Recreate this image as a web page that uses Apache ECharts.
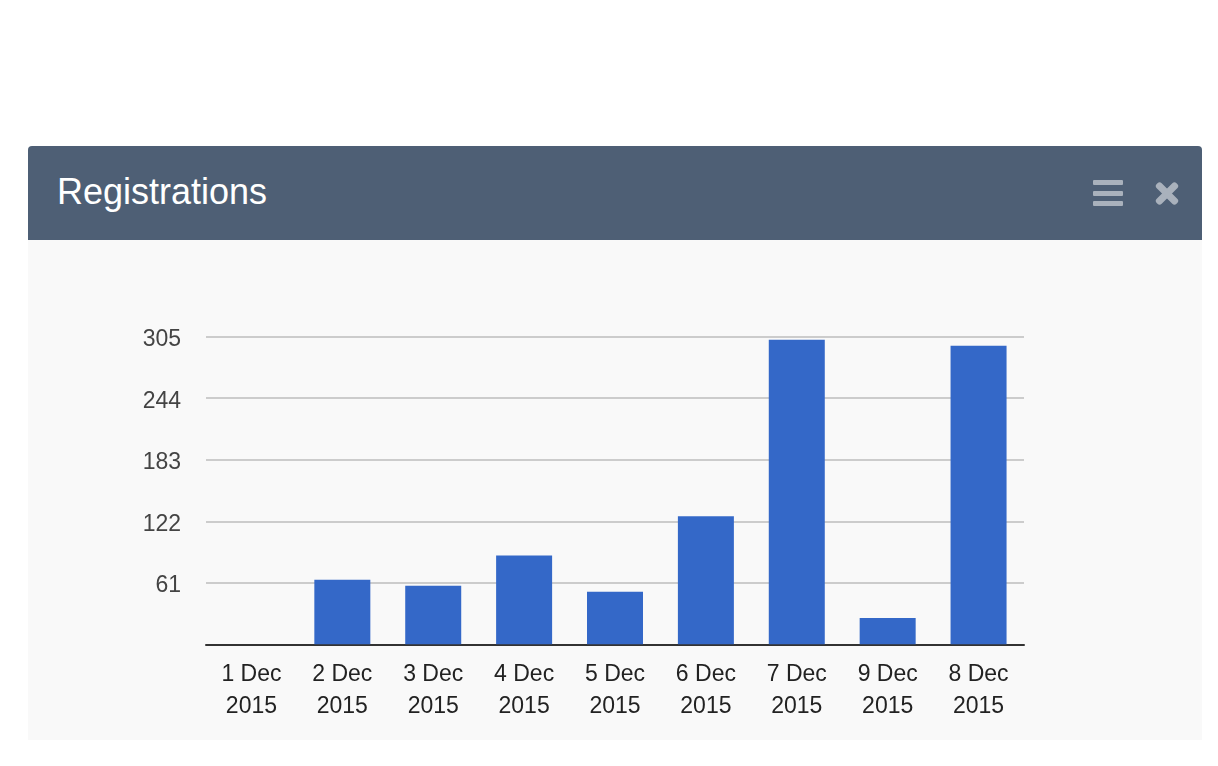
<!DOCTYPE html>
<html>
<head>
<meta charset="utf-8">
<script src="https://cdn.jsdelivr.net/npm/echarts@6/dist/echarts.min.js"></script>
<style>
  html, body { margin: 0; padding: 0; width: 1218px; height: 766px; background: #ffffff; overflow: hidden; font-family: 'Liberation Sans', Arial, Helvetica, sans-serif; }
  #panel { position: absolute; left: 28px; top: 146px; width: 1174px; height: 594px; background: #f9f9f9; border-radius: 4px 4px 0 0; }
  #header { position: absolute; left: 0; top: 0; width: 1174px; height: 94px; background: #4e5f75; border-radius: 4px 4px 0 0; }
  #title { position: absolute; left: 29px; top: 0; line-height: 92px; font-size: 36px; color: #ffffff; }
  .hb { position: absolute; left: 1065px; width: 30px; height: 5px; background: #a9b1bc; border-radius: 1px; }
  .xb { position: absolute; left: 1125px; top: 44px; width: 28px; height: 7px; background: #a9b1bc; border-radius: 3px; }
  #chart { position: absolute; left: 0; top: 0; width: 1218px; height: 766px; }
</style>
</head>
<body>
<div id="panel">
  <div id="header">
    <div id="title">Registrations</div>
    <div class="hb" style="top:34px"></div>
    <div class="hb" style="top:44.5px"></div>
    <div class="hb" style="top:55px"></div>
    <div class="xb" style="transform: rotate(45deg)"></div>
    <div class="xb" style="transform: rotate(-45deg)"></div>
  </div>
</div>
<div id="chart"></div>
<script>
const categories = ['1 Dec\n2015', '2 Dec\n2015', '3 Dec\n2015', '4 Dec\n2015', '5 Dec\n2015', '6 Dec\n2015', '7 Dec\n2015', '9 Dec\n2015', '8 Dec\n2015'];
const registrations = [0, 64, 58, 88, 52, 127, 302, 26, 296];
const yMax = 305;
const yInterval = 61;

const chart = echarts.init(document.getElementById('chart'), null, { renderer: 'canvas' });
chart.setOption({
  backgroundColor: 'transparent',
  animation: false,
  textStyle: { fontFamily: "'Liberation Sans', Arial, Helvetica, sans-serif" },
  grid: { left: 206, right: 194, top: 336.7, bottom: 121.7, containLabel: false },
  xAxis: {
    type: 'category',
    data: categories,
    axisLine: { lineStyle: { color: '#333333', width: 2 } },
    axisTick: { show: false },
    axisLabel: { color: '#222222', fontSize: 23, lineHeight: 32, margin: 14, interval: 0 }
  },
  yAxis: {
    type: 'value',
    min: 0,
    max: yMax,
    interval: yInterval,
    axisLine: { show: false },
    axisTick: { show: false },
    axisLabel: {
      color: '#444444', fontSize: 23, margin: 25,
      formatter: v => (v === 0 ? '' : '{v|' + v + '}'),
      rich: { v: { color: '#444444', fontSize: 23, padding: [6, 0, 0, 0] } }
    },
    splitLine: { lineStyle: { color: '#cccccc', width: 2 } }
  },
  series: [{
    type: 'bar',
    data: registrations,
    barWidth: 56,
    itemStyle: { color: '#3468c8' }
  }]
});
</script>
</body>
</html>
